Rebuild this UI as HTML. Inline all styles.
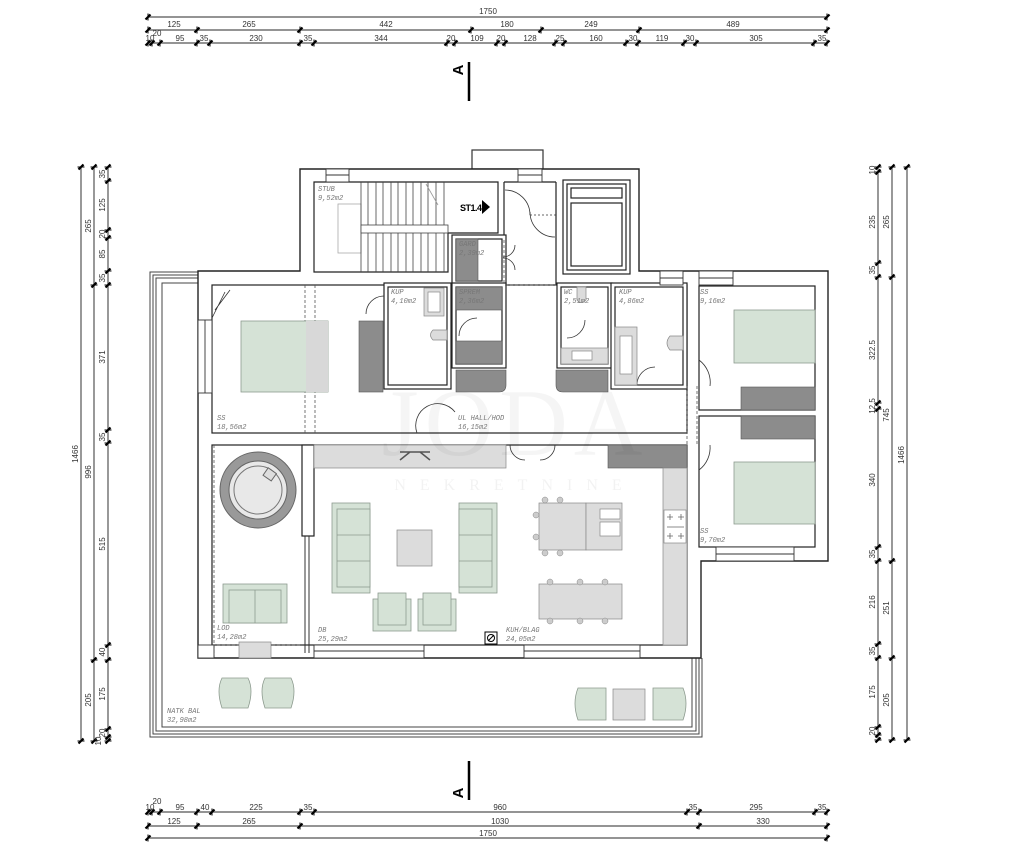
<!DOCTYPE html>
<html><head><meta charset="utf-8"><style>
html,body{margin:0;padding:0;background:#fff;}
svg{display:block;}
.d{font-family:"Liberation Sans",sans-serif;font-size:8px;fill:#333;text-anchor:middle;}
.r{font-family:"Liberation Mono",monospace;font-style:italic;font-size:7px;fill:#777;}
</style></head><body>
<svg width="1036" height="864" viewBox="0 0 1036 864" xmlns="http://www.w3.org/2000/svg">
<defs>
<g id="tk"><path d="M-2.5,2.5L2.5,-2.5" stroke="#000" stroke-width="2.2"/><path d="M0,-3.5V3.5" stroke="#000" stroke-width="1"/></g>
<g id="tv"><path d="M-2.5,2.5L2.5,-2.5" stroke="#000" stroke-width="2.2"/><path d="M-3.5,0H3.5" stroke="#000" stroke-width="1"/></g>
</defs>

<!-- TOP DIMENSIONS -->
<g stroke="#555" stroke-width="1.2">
<line x1="148" y1="17" x2="827" y2="17"/><line x1="148" y1="30" x2="827" y2="30"/><line x1="148" y1="43" x2="827" y2="43"/>
<line x1="148" y1="812" x2="827" y2="812"/><line x1="148" y1="826" x2="827" y2="826"/><line x1="148" y1="838" x2="827" y2="838"/>
<line x1="81" y1="167" x2="81" y2="741"/><line x1="94" y1="167" x2="94" y2="741"/><line x1="108" y1="167" x2="108" y2="741"/>
<line x1="878" y1="167" x2="878" y2="740"/><line x1="892" y1="167" x2="892" y2="740"/><line x1="907" y1="167" x2="907" y2="740"/>
</g>
<g>
<use href="#tk" x="148" y="17"/><use href="#tk" x="827" y="17"/>
<use href="#tk" x="148" y="30"/><use href="#tk" x="197" y="30"/><use href="#tk" x="300" y="30"/><use href="#tk" x="471" y="30"/><use href="#tk" x="541" y="30"/><use href="#tk" x="639" y="30"/><use href="#tk" x="827" y="30"/>
<use href="#tk" x="148" y="43"/><use href="#tk" x="152" y="43"/><use href="#tk" x="160" y="43"/><use href="#tk" x="197" y="43"/><use href="#tk" x="210" y="43"/><use href="#tk" x="300" y="43"/><use href="#tk" x="314" y="43"/><use href="#tk" x="447" y="43"/><use href="#tk" x="455" y="43"/><use href="#tk" x="497" y="43"/><use href="#tk" x="505" y="43"/><use href="#tk" x="555" y="43"/><use href="#tk" x="564" y="43"/><use href="#tk" x="626" y="43"/><use href="#tk" x="638" y="43"/><use href="#tk" x="684" y="43"/><use href="#tk" x="696" y="43"/><use href="#tk" x="814" y="43"/><use href="#tk" x="827" y="43"/>
<use href="#tk" x="148" y="812"/><use href="#tk" x="152" y="812"/><use href="#tk" x="160" y="812"/><use href="#tk" x="197" y="812"/><use href="#tk" x="212" y="812"/><use href="#tk" x="300" y="812"/><use href="#tk" x="314" y="812"/><use href="#tk" x="687" y="812"/><use href="#tk" x="699" y="812"/><use href="#tk" x="815" y="812"/><use href="#tk" x="827" y="812"/>
<use href="#tk" x="148" y="826"/><use href="#tk" x="197" y="826"/><use href="#tk" x="300" y="826"/><use href="#tk" x="699" y="826"/><use href="#tk" x="827" y="826"/>
<use href="#tk" x="148" y="838"/><use href="#tk" x="827" y="838"/>
<!-- left -->
<use href="#tv" x="81" y="167"/><use href="#tv" x="81" y="741"/>
<use href="#tv" x="94" y="167"/><use href="#tv" x="94" y="285"/><use href="#tv" x="94" y="660"/><use href="#tv" x="94" y="741"/>
<use href="#tv" x="108" y="167"/><use href="#tv" x="108" y="181"/><use href="#tv" x="108" y="230"/><use href="#tv" x="108" y="238"/><use href="#tv" x="108" y="271"/><use href="#tv" x="108" y="285"/><use href="#tv" x="108" y="430"/><use href="#tv" x="108" y="443"/><use href="#tv" x="108" y="645"/><use href="#tv" x="108" y="660"/><use href="#tv" x="108" y="729"/><use href="#tv" x="108" y="737"/><use href="#tv" x="108" y="741"/>
<!-- right -->
<use href="#tv" x="878" y="167"/><use href="#tv" x="878" y="172"/><use href="#tv" x="878" y="263"/><use href="#tv" x="878" y="277"/><use href="#tv" x="878" y="403"/><use href="#tv" x="878" y="409"/><use href="#tv" x="878" y="547"/><use href="#tv" x="878" y="561"/><use href="#tv" x="878" y="644"/><use href="#tv" x="878" y="658"/><use href="#tv" x="878" y="727"/><use href="#tv" x="878" y="735"/><use href="#tv" x="878" y="740"/>
<use href="#tv" x="892" y="167"/><use href="#tv" x="892" y="277"/><use href="#tv" x="892" y="561"/><use href="#tv" x="892" y="658"/><use href="#tv" x="892" y="740"/>
<use href="#tv" x="907" y="167"/><use href="#tv" x="907" y="740"/>
</g>
<g class="d">
<text x="488" y="14">1750</text>
<text x="174" y="27">125</text><text x="249" y="27">265</text><text x="386" y="27">442</text><text x="507" y="27">180</text><text x="591" y="27">249</text><text x="733" y="27">489</text>
<text x="150" y="41">10</text><text x="157" y="36">20</text><text x="180" y="41">95</text><text x="204" y="41">35</text><text x="256" y="41">230</text><text x="308" y="41">35</text><text x="381" y="41">344</text><text x="451" y="41">20</text><text x="477" y="41">109</text><text x="501" y="41">20</text><text x="530" y="41">128</text><text x="560" y="41">25</text><text x="596" y="41">160</text><text x="633" y="41">30</text><text x="662" y="41">119</text><text x="690" y="41">30</text><text x="756" y="41">305</text><text x="822" y="41">35</text>
<text x="150" y="810">10</text><text x="157" y="804">20</text><text x="180" y="810">95</text><text x="205" y="810">40</text><text x="256" y="810">225</text><text x="308" y="810">35</text><text x="500" y="810">960</text><text x="693" y="810">35</text><text x="756" y="810">295</text><text x="822" y="810">35</text>
<text x="174" y="824">125</text><text x="249" y="824">265</text><text x="500" y="824">1030</text><text x="763" y="824">330</text>
<text x="488" y="836">1750</text>
<!-- left vertical -->
<text transform="translate(105,174) rotate(-90)">35</text><text transform="translate(105,205) rotate(-90)">125</text><text transform="translate(105,234) rotate(-90)">20</text><text transform="translate(105,254) rotate(-90)">85</text><text transform="translate(105,278) rotate(-90)">35</text><text transform="translate(105,357) rotate(-90)">371</text><text transform="translate(105,437) rotate(-90)">35</text><text transform="translate(105,544) rotate(-90)">515</text><text transform="translate(105,652) rotate(-90)">40</text><text transform="translate(105,694) rotate(-90)">175</text><text transform="translate(105,733) rotate(-90)">20</text><text transform="translate(101,741) rotate(-90)">10</text>
<text transform="translate(91,226) rotate(-90)">265</text><text transform="translate(91,472) rotate(-90)">996</text><text transform="translate(91,700) rotate(-90)">205</text>
<text transform="translate(78,454) rotate(-90)">1466</text>
<!-- right vertical -->
<text transform="translate(875,170) rotate(-90)">10</text><text transform="translate(875,222) rotate(-90)">235</text><text transform="translate(875,270) rotate(-90)">35</text><text transform="translate(875,350) rotate(-90)">322.5</text><text transform="translate(875,406) rotate(-90)">12.5</text><text transform="translate(875,480) rotate(-90)">340</text><text transform="translate(875,554) rotate(-90)">35</text><text transform="translate(875,602) rotate(-90)">216</text><text transform="translate(875,651) rotate(-90)">35</text><text transform="translate(875,692) rotate(-90)">175</text><text transform="translate(875,731) rotate(-90)">20</text>
<text transform="translate(889,222) rotate(-90)">265</text><text transform="translate(889,415) rotate(-90)">745</text><text transform="translate(889,608) rotate(-90)">251</text><text transform="translate(889,700) rotate(-90)">205</text>
<text transform="translate(904,455) rotate(-90)">1466</text>
</g>

<!-- SECTION MARKS -->
<line x1="469" y1="62" x2="469" y2="101" stroke="#000" stroke-width="2.5"/>
<text transform="translate(463,70) rotate(-90)" style="font-family:'Liberation Sans',sans-serif;font-weight:bold;font-size:15px;text-anchor:middle">A</text>
<line x1="469" y1="761" x2="469" y2="800" stroke="#000" stroke-width="2.5"/>
<text transform="translate(463,793) rotate(-90)" style="font-family:'Liberation Sans',sans-serif;font-weight:bold;font-size:15px;text-anchor:middle">A</text>

<!-- TERRACE -->
<g fill="none" stroke="#444" stroke-width="1">
<path d="M198,272H150V737H702V658"/>
<path d="M198,275H153V734H699V658"/>
<path d="M198,278H156V731H696V658"/>
<path d="M198,283H162V727H692V658"/>
</g>

<!-- BUILDING SHELL -->
<rect x="472" y="150" width="71" height="19" fill="#fff" stroke="#333" stroke-width="1.2"/>
<path d="M198,271H300V169H639V271H828V561H701V658H198Z" fill="#fff" stroke="#222" stroke-width="1.4"/>

<g fill="#fff" stroke="#222" stroke-width="1.2">
<!-- stair room -->
<path d="M314,182H498V233H448V272H314Z"/>
<!-- entry corridor / hall -->
<path d="M504,182H556V285H687V386H699V547H687V433H212V285H504Z" stroke="none"/>
<line x1="504" y1="182" x2="504" y2="238"/><line x1="556" y1="182" x2="556" y2="285"/><line x1="504" y1="182" x2="556" y2="182"/>
<!-- main interior upper -->
<rect x="212" y="285" width="475" height="148"/>
<!-- elevator -->
<rect x="563" y="180" width="67" height="94"/>
<rect x="567" y="184" width="59" height="86"/>
<rect x="571" y="188" width="51" height="10"/>
<rect x="571" y="203" width="51" height="63"/>
<!-- small rooms with wall thickness -->
<rect x="384" y="283" width="67" height="106"/><rect x="388" y="287" width="59" height="98"/>
<rect x="452" y="235" width="54" height="50"/><rect x="456" y="239" width="46" height="42"/>
<rect x="452" y="283" width="54" height="85"/><rect x="456" y="287" width="46" height="77"/>
<rect x="557" y="283" width="55" height="85"/><rect x="561" y="287" width="47" height="77"/>
<rect x="611" y="283" width="76" height="106"/><rect x="615" y="287" width="68" height="98"/>
<!-- right wing -->
<rect x="699" y="286" width="116" height="124"/>
<rect x="699" y="416" width="116" height="131"/>
<!-- living -->
<rect x="212" y="445" width="475" height="200"/>
<rect x="302" y="445" width="12" height="91"/>
</g>
<!-- dashed loggia lines -->
<g stroke="#555" stroke-width="0.8" stroke-dasharray="3,2" fill="none">
<line x1="214" y1="445" x2="214" y2="658"/>
<line x1="305" y1="285" x2="305" y2="433"/><line x1="315" y1="285" x2="315" y2="433"/>
<line x1="504" y1="240" x2="504" y2="285"/><line x1="505" y1="285" x2="556" y2="285"/>
<line x1="687" y1="386" x2="687" y2="445"/><line x1="697" y1="386" x2="697" y2="445"/>
<line x1="212" y1="645" x2="302" y2="645"/>
</g>
<line x1="305" y1="536" x2="305" y2="653" stroke="#333" stroke-width="1"/>
<line x1="309" y1="536" x2="309" y2="653" stroke="#333" stroke-width="1"/>

<!-- windows -->
<g fill="#fff" stroke="#333" stroke-width="0.9">
<rect x="326" y="169" width="23" height="13"/><line x1="326" y1="175" x2="349" y2="175"/>
<rect x="518" y="169" width="24" height="13"/><line x1="518" y1="175" x2="542" y2="175"/>
<rect x="660" y="271" width="23" height="14"/><line x1="660" y1="278" x2="683" y2="278"/>
<rect x="699" y="271" width="34" height="14"/><line x1="699" y1="278" x2="733" y2="278"/>
<rect x="716" y="547" width="78" height="14"/><line x1="716" y1="554" x2="794" y2="554"/>
<rect x="198" y="320" width="14" height="73"/><line x1="205" y1="320" x2="205" y2="393"/>
<rect x="314" y="645" width="110" height="13"/><line x1="314" y1="651" x2="424" y2="651"/>
<rect x="524" y="645" width="116" height="13"/><line x1="524" y1="651" x2="640" y2="651"/>
<rect x="198" y="645" width="16" height="13"/>
</g>

<!-- stairs -->
<g stroke="#444" stroke-width="0.8" fill="none">
<rect x="338" y="204" width="23" height="49" stroke="#aaa"/>
<path d="M361,182V272M368,182V272M376,182V272M383,182V272M391,182V272M398,182V272M406,182V272M413,182V272M421,182V272M428,182V272M436,182V272M444,182V272"/>
<rect x="361" y="225" width="87" height="8" fill="#fff"/>
<path d="M426,184L438,205" stroke="#999"/>
</g>
<text x="460" y="211" style="font-family:'Liberation Sans',sans-serif;font-weight:bold;font-size:9px;letter-spacing:-0.5px">ST1.4</text>
<path d="M482,200L490,207L482,214Z" fill="#000"/>

<!-- doors (arcs) -->
<g fill="none" stroke="#333" stroke-width="0.8">
<path d="M505,190A25,25 0 0 1 530,215"/><path d="M530,215H556" stroke-dasharray="2,2"/>
<path d="M530,212A25,25 0 0 0 555,237"/>
<path d="M515,245A12,12 0 0 1 503,257M515,270A12,12 0 0 0 503,258"/>
<path d="M455,412A22,22 0 0 0 417,433"/>
<path d="M477,318A18,18 0 0 0 459,336"/>
<path d="M384,296A18,18 0 0 0 366,314"/>
<path d="M585,320A18,18 0 0 1 567,338"/>
<path d="M637,385A18,18 0 0 1 655,367"/>
<path d="M699,360A28,28 0 0 1 710,386"/>
<path d="M699,470A28,28 0 0 0 710,445"/>
<path d="M510,445A15,15 0 0 0 525,460M555,445A15,15 0 0 1 540,460"/>
<path d="M230,290L215,310M225,292L212,318"/>
</g>

<!-- room furniture -->
<g stroke="#8d9b8f" stroke-width="0.8">
<rect x="241" y="321" width="87" height="71" fill="#d5e2d6"/>
<rect x="306" y="321" width="22" height="71" fill="#d8d8d8" stroke="none"/>
<rect x="734" y="310" width="81" height="53" fill="#d5e2d6"/>
<rect x="734" y="462" width="81" height="62" fill="#d5e2d6"/>
</g>
<g fill="#8c8c8c" stroke="#555" stroke-width="0.6">
<rect x="359" y="321" width="24" height="71"/>
<rect x="456" y="239" width="22" height="42"/>
<rect x="456" y="287" width="46" height="23"/>
<rect x="456" y="341" width="46" height="23"/>
<path d="M456,370H506V385Q506,392 499,392H456Z"/>
<path d="M608,370H556V385Q556,392 563,392H608Z"/>
<rect x="741" y="387" width="74" height="23"/>
<rect x="741" y="416" width="74" height="23"/>
<rect x="608" y="445" width="79" height="23"/>
</g>
<g fill="#dcdcdc" stroke="#888" stroke-width="0.7">
<rect x="424" y="288" width="20" height="28"/><rect x="428" y="292" width="12" height="20" fill="#fff"/>
<path d="M447,330H433Q428,335 433,340H447Z"/>
<rect x="615" y="327" width="22" height="58"/><rect x="620" y="336" width="12" height="38" fill="#fff"/>
<path d="M683,336H670Q664,343 670,350H683Z"/>
<rect x="561" y="348" width="47" height="16"/><rect x="572" y="351" width="20" height="9" fill="#fff"/>
<path d="M577,287H586V300Q581,305 577,300Z"/>
<rect x="314" y="445" width="192" height="23"/>
<rect x="663" y="468" width="24" height="177"/>
<rect x="664" y="510" width="22" height="33" fill="#fff"/>
<rect x="397" y="530" width="35" height="36"/>
<rect x="539" y="503" width="47" height="47"/><rect x="586" y="503" width="36" height="47"/>
<rect x="600" y="509" width="20" height="10" fill="#fff"/><rect x="600" y="522" width="20" height="14" fill="#fff"/>
<rect x="539" y="584" width="83" height="35"/>
<rect x="239" y="642" width="32" height="16"/>
<rect x="613" y="689" width="32" height="31"/>
</g>
<g fill="none" stroke="#666" stroke-width="0.8"><path d="M667,517h6M670,514v6M678,517h6M681,514v6M667,536h6M670,533v6M678,536h6M681,533v6M667,527h17"/></g>
<path d="M400,452H430M410,452L400,460M420,452L430,460" stroke="#555" stroke-width="1.5" fill="none"/>
<!-- sofas etc -->
<g fill="#d5e2d6" stroke="#8d9b8f" stroke-width="0.8">
<rect x="332" y="503" width="38" height="90"/><rect x="337" y="509" width="33" height="78"/><path d="M337,535H370M337,561H370"/>
<rect x="459" y="503" width="38" height="90"/><rect x="459" y="509" width="33" height="78"/><path d="M459,535H492M459,561H492"/>
<rect x="373" y="599" width="38" height="32"/><rect x="378" y="593" width="28" height="32"/>
<rect x="418" y="599" width="38" height="32"/><rect x="423" y="593" width="28" height="32"/>
<rect x="223" y="584" width="64" height="39"/><rect x="229" y="590" width="52" height="33"/><path d="M255,590V623"/>
<path d="M222,708Q216,690 222,678H248Q254,690 248,708Z"/>
<path d="M265,708Q259,690 265,678H291Q297,690 291,708Z"/>
<path d="M578,720Q572,703 578,688H606V720Z"/>
<path d="M683,720Q689,703 683,688H653V720Z"/>
</g>
<g fill="#ccc" stroke="#888" stroke-width="0.5">
<circle cx="545" cy="500" r="3"/><circle cx="560" cy="500" r="3"/><circle cx="545" cy="553" r="3"/><circle cx="560" cy="553" r="3"/><circle cx="536" cy="515" r="3"/><circle cx="536" cy="537" r="3"/>
<circle cx="550" cy="582" r="3"/><circle cx="580" cy="582" r="3"/><circle cx="605" cy="582" r="3"/><circle cx="550" cy="621" r="3"/><circle cx="580" cy="621" r="3"/><circle cx="605" cy="621" r="3"/>
</g>
<!-- jacuzzi -->
<circle cx="258" cy="490" r="38" fill="#999" stroke="#666"/>
<circle cx="258" cy="490" r="29" fill="#e8e8e8" stroke="#666"/>
<circle cx="258" cy="490" r="24" fill="none" stroke="#777"/>
<rect x="265" y="470" width="10" height="9" fill="#ddd" stroke="#666" transform="rotate(35 270 474)"/>
<!-- circle symbol -->
<rect x="485" y="632" width="12" height="12" fill="#fff" stroke="#000"/>
<circle cx="491" cy="638" r="3.5" fill="none" stroke="#000"/><path d="M488,641L494,635" stroke="#000"/>

<!-- watermark -->
<text x="515" y="455" style="font-family:'Liberation Serif',serif;font-size:95px;fill:#000;fill-opacity:0.04;text-anchor:middle;letter-spacing:6px">JODA</text>
<text x="515" y="490" style="font-family:'Liberation Serif',serif;font-size:16px;fill:#000;fill-opacity:0.05;text-anchor:middle;letter-spacing:14px">NEKRETNINE</text>

<!-- labels -->
<g class="r">
<text x="318" y="191">STUB</text><text x="318" y="200">9,52m2</text>
<text x="459" y="246">GARD</text><text x="459" y="255">2,39m2</text>
<text x="459" y="294">SPREM</text><text x="459" y="303">2,36m2</text>
<text x="391" y="294">KUP</text><text x="391" y="303">4,10m2</text>
<text x="564" y="294">WC</text><text x="564" y="303">2,51m2</text>
<text x="619" y="294">KUP</text><text x="619" y="303">4,86m2</text>
<text x="700" y="294">SS</text><text x="700" y="303">9,16m2</text>
<text x="217" y="420">SS</text><text x="217" y="429">18,56m2</text>
<text x="458" y="420">UL HALL/HOD</text><text x="458" y="429">16,15m2</text>
<text x="700" y="533">SS</text><text x="700" y="542">9,70m2</text>
<text x="217" y="630">LOD</text><text x="217" y="639">14,28m2</text>
<text x="318" y="632">DB</text><text x="318" y="641">25,29m2</text>
<text x="506" y="632">KUH/BLAG</text><text x="506" y="641">24,05m2</text>
<text x="167" y="713">NATK BAL</text><text x="167" y="722">32,98m2</text>
</g>
</svg>
</body></html>
